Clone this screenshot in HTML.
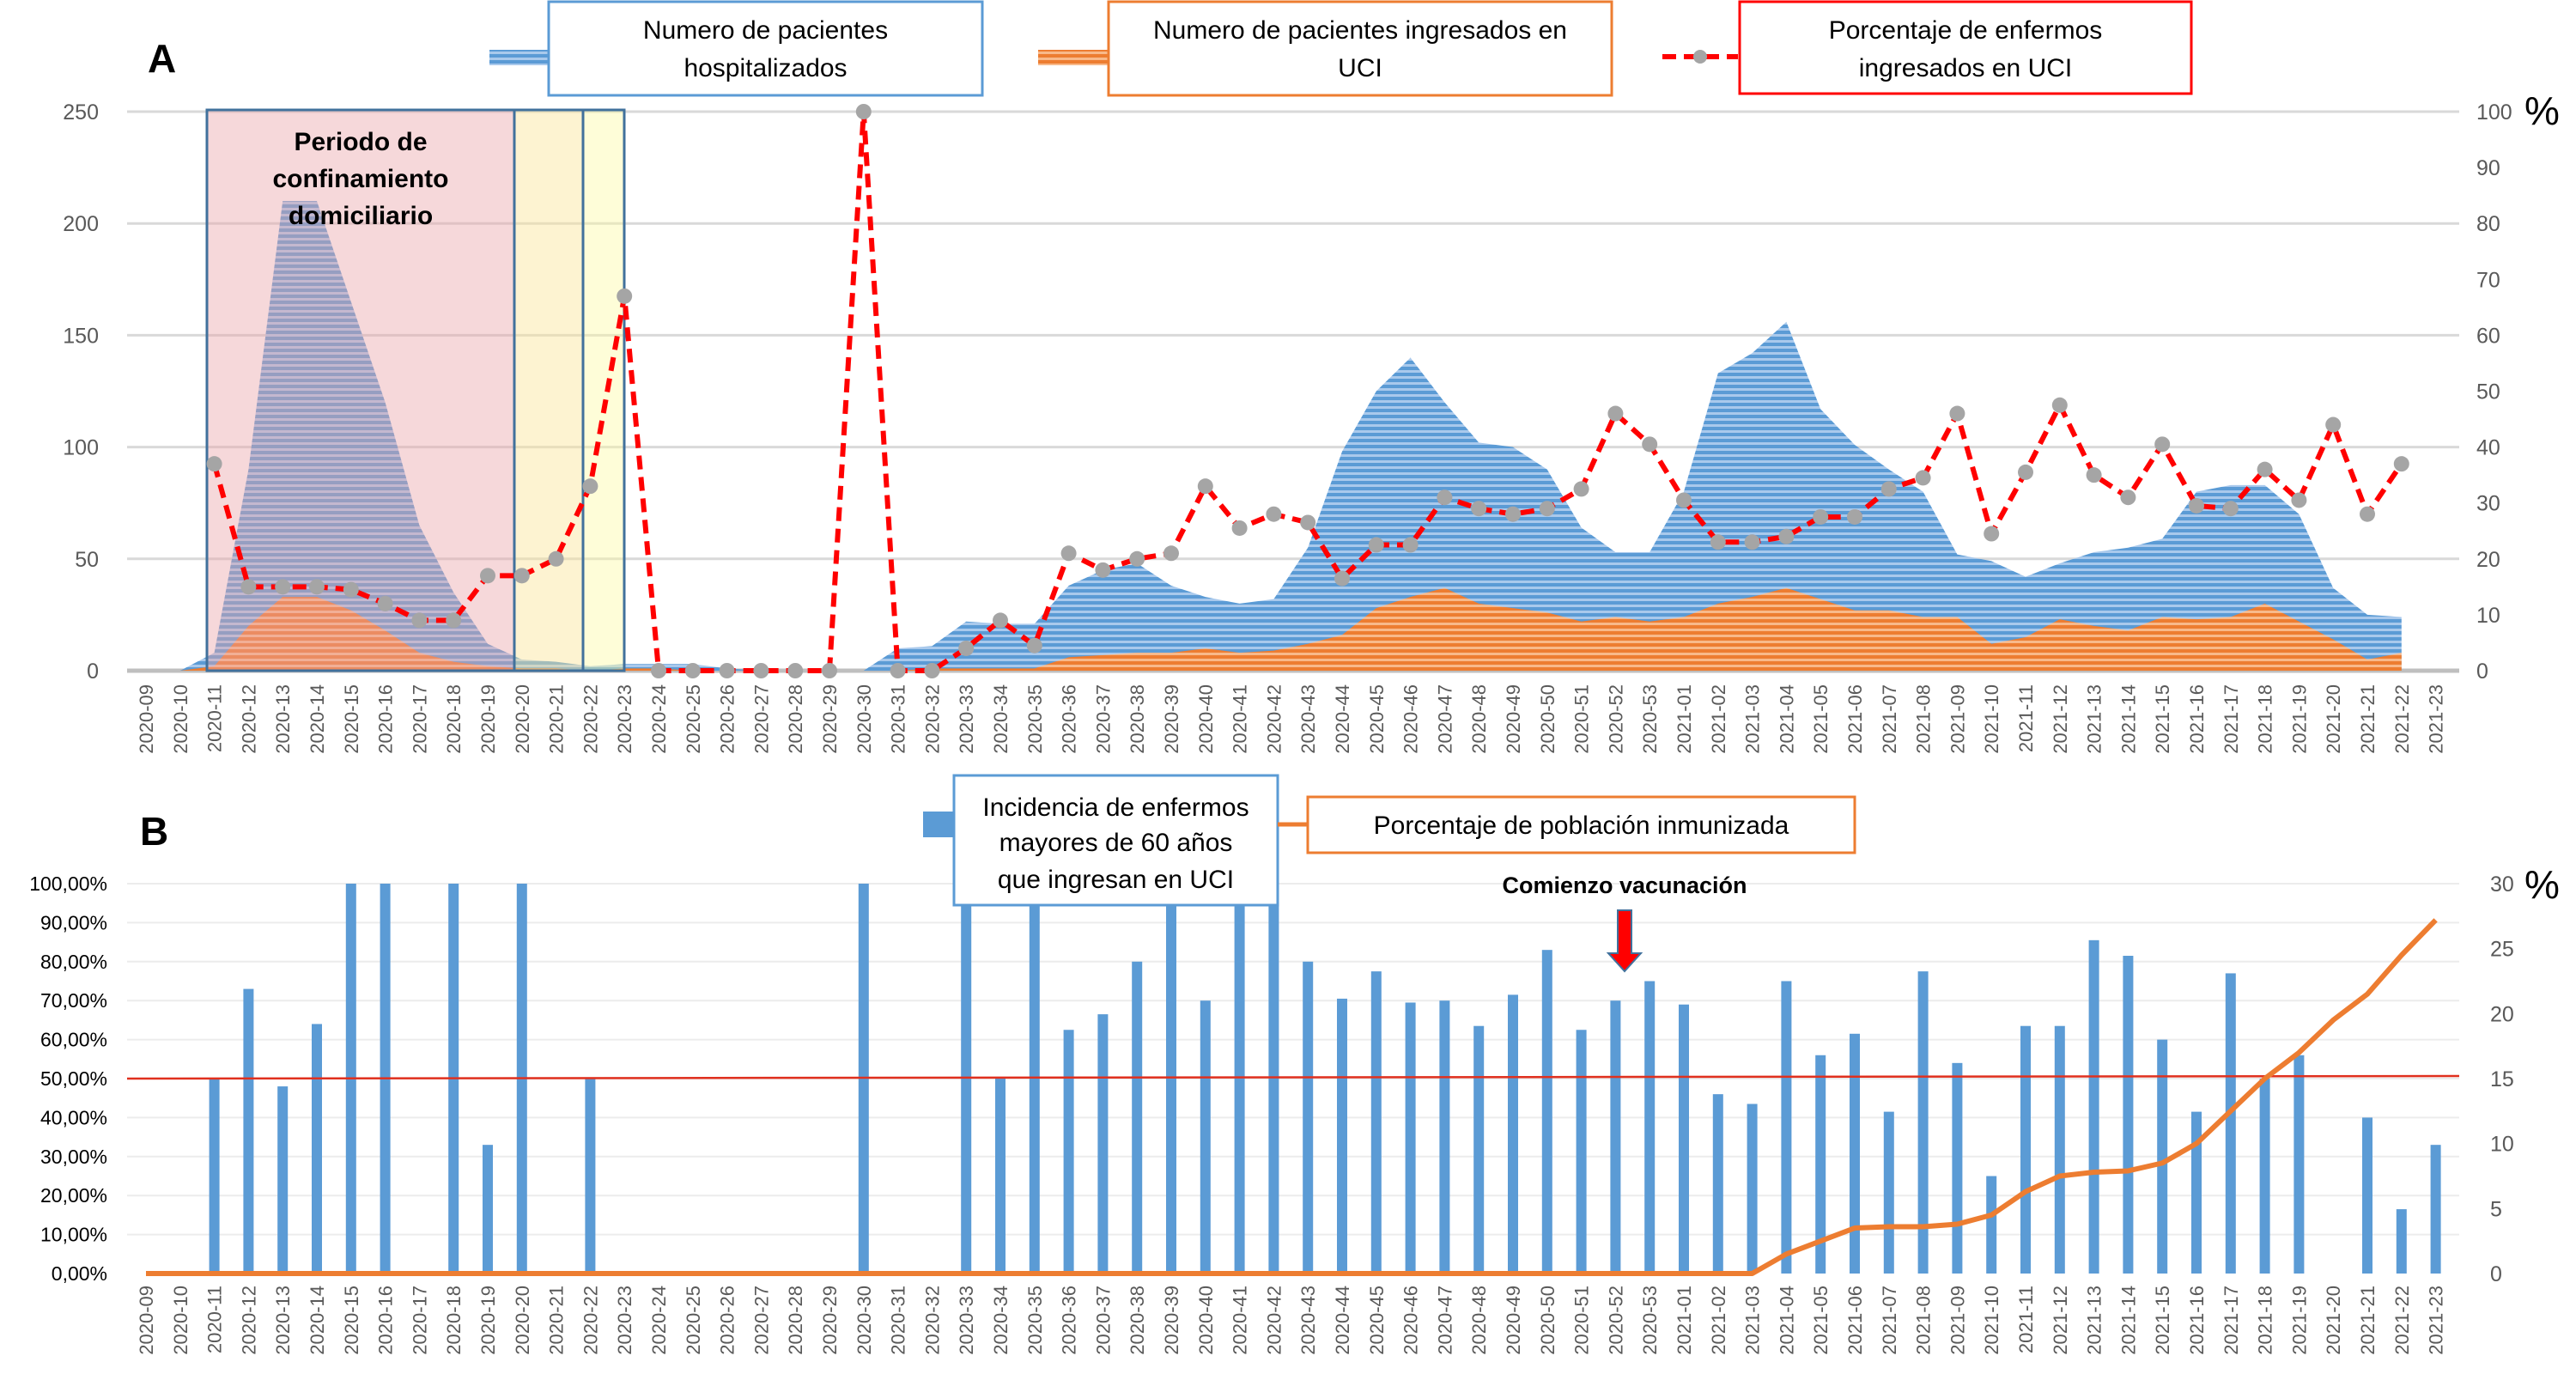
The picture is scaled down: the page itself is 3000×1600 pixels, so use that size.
<!DOCTYPE html>
<html><head><meta charset="utf-8"><style>
html,body{margin:0;padding:0;background:#fff;width:3000px;height:1600px;overflow:hidden}
svg{display:block;font-family:"Liberation Sans",sans-serif}
</style></head><body>
<svg id="chart" width="3000" height="1600" viewBox="0 0 3000 1600" xmlns="http://www.w3.org/2000/svg">
<defs>
<pattern id="hatchBlue" width="10" height="7" patternUnits="userSpaceOnUse"><rect width="10" height="7" fill="#a9c9ec"/><rect width="10" height="4" fill="#5b9bd5"/></pattern>
<pattern id="hatchOrange" width="10" height="7" patternUnits="userSpaceOnUse"><rect width="10" height="7" fill="#f8b98a"/><rect width="10" height="4" fill="#ed7d31"/></pattern>
</defs>
<g id="topChart"></g>
<g id="botChart"></g>
</svg>
<script>
const weeks = [];
for (let w = 9; w <= 53; w++) weeks.push('2020-' + String(w).padStart(2,'0'));
for (let w = 1; w <= 23; w++) weeks.push('2021-' + String(w).padStart(2,'0'));
const hospitalized = [0,0,8,90,210,210,165,120,65,35,12,5,4,2,3,3,3,1,0,0,0,0,10,11,22,21,21,38,45,48,38,33,30,32,55,98,125,140,120,102,100,90,64,53,53,80,133,142,156,117,101,90,80,52,49,42,48,53,55,59,80,83,83,70,37,25,24,null];
const uci = [0,0,2,20,33,33,27,18,8,4,2,1,1,0,1,1,0,0,0,0,0,0,0,1,1,1,1,6,7,8,8,10,8,9,12,16,28,33,37,30,28,26,22,24,22,24,30,33,37,32,27,27,24,24,12,15,23,20,18,24,23,24,30,22,14,5,8,null];
const pctUci = [null,null,37,15,15,15,14.5,12,9,9,17,17,20,33,67,0,0,0,0,0,0,100,0,0,4,9,4.5,21,18,20,21,33,25.5,28,26.5,16.5,22.5,22.5,31,29,28,29,32.5,46,40.5,30.5,23,23,24,27.5,27.5,32.5,34.5,46,24.5,35.5,47.5,35,31,40.5,29.5,29,36,30.5,44,28,37,null];
const incidence = [0,0,50,73,48,64,100,100,0,100,33,100,0,50,0,0,0,0,0,0,0,100,0,0,100,50,100,62.5,66.5,80,100,70,100,100,80,70.5,77.5,69.5,70,63.5,71.5,83,62.5,70,75,69,46,43.5,75,56,61.5,41.5,77.5,54,25,63.5,63.5,85.5,81.5,60,41.5,77,50,56,0,40,16.5,33];
const immunized = [0,0,0,0,0,0,0,0,0,0,0,0,0,0,0,0,0,0,0,0,0,0,0,0,0,0,0,0,0,0,0,0,0,0,0,0,0,0,0,0,0,0,0,0,0,0,0,0,1.5,2.5,3.5,3.6,3.6,3.8,4.5,6.3,7.5,7.8,7.9,8.5,10,12.5,15,17,19.5,21.5,24.5,27.2];
const leftTicksA = [0,50,100,150,200,250];
const rightTicksA = [0,10,20,30,40,50,60,70,80,90,100];
const leftTicksB = [0,10,20,30,40,50,60,70,80,90,100];
const rightTicksB = [0,5,10,15,20,25,30];

const NS = 'http://www.w3.org/2000/svg';
function mk(parent, tag, attrs, text){const e=document.createElementNS(NS,tag);for(const k in attrs)e.setAttribute(k,attrs[k]);if(text!==undefined)e.textContent=text;parent.appendChild(e);return e;}
const X = i => 170 + i*39.8;
const GX0=148, GX1=2864;
const yA = v => 781 - v*(651/250);
const yAr = v => 781 - v*(651/100);
const yB = v => 1483 - v*(454/100);
const yBr = v => 1483 - v*(454/30);
const gTop = document.getElementById('topChart');
const gBot = document.getElementById('botChart');

leftTicksA.forEach(t=>{
  const l=mk(gTop,'line',{x1:GX0,x2:GX1,y1:yA(t),y2:yA(t),stroke:t===0?'#bfbfbf':'#d9d9d9','stroke-width':t===0?5:3});
  
  
  const tx=mk(gTop,'text',{x:115,y:yA(t)+9,'text-anchor':'end','font-size':25,fill:'#595959'},String(t));
  
  
});
rightTicksA.forEach(t=>{
  const tx=mk(gTop,'text',{x:2884,y:yAr(t)+9,'font-size':25,fill:'#595959'},String(t));
  
  
});
function areaPath(arr, yf){
  let d='', started=false, last=0;
  arr.forEach((v,i)=>{ if(v===null) return; if(!started){d+=`M${X(i)},${yf(0)} `;started=true;} d+=`L${X(i)},${yf(v)} `; last=i;});
  d+=`L${X(last)},${yf(0)} Z`; return d;
}
const aH=mk(gTop,'path',{d:areaPath(hospitalized,yA),fill:'url(#hatchBlue)'});


const aU=mk(gTop,'path',{d:areaPath(uci,yA),fill:'url(#hatchOrange)'});


const r1=mk(gTop,'rect',{x:241,y:128,width:358,height:653,fill:'#e9a3a6','fill-opacity':0.42,stroke:'#41719c','stroke-width':3});


const r2=mk(gTop,'rect',{x:599,y:128,width:80,height:653,fill:'#fbe59a','fill-opacity':0.45,stroke:'#41719c','stroke-width':3});


const r3=mk(gTop,'rect',{x:679,y:128,width:48,height:653,fill:'#fdfb9e','fill-opacity':0.4,stroke:'#41719c','stroke-width':3});


['Periodo de','confinamiento','domiciliario'].forEach((s,k)=>{
  const t=mk(gTop,'text',{x:420,y:175+k*43,'text-anchor':'middle','font-size':30,'font-weight':'bold',fill:'#000'},s);
  
  
});
let pd='';let pen=false;
pctUci.forEach((v,i)=>{ if(v===null){pen=false;return;} pd+=(pen?'L':'M')+X(i)+','+yAr(v)+' '; pen=true;});
const pl=mk(gTop,'path',{d:pd,fill:'none',stroke:'#ff0000','stroke-width':6,'stroke-dasharray':'16 9'});


pctUci.forEach((v,i)=>{ if(v===null) return;
  const c=mk(gTop,'circle',{cx:X(i),cy:yAr(v),r:9,fill:'#a5a5a5'});
  
  
});
weeks.forEach((w,i)=>{
  const t=mk(gTop,'text',{transform:`translate(${X(i)+8},797) rotate(-90)`,'text-anchor':'end','font-size':22,fill:'#595959'},w);
  
  
  const t2=mk(gBot,'text',{transform:`translate(${X(i)+8},1497) rotate(-90)`,'text-anchor':'end','font-size':22,fill:'#595959'},w);
  
  
});
function box(g,x,y,w,h,col,lines,ty,name){
  const r=mk(g,'rect',{x,y,width:w,height:h,fill:'#fff',stroke:col,'stroke-width':3});
  
  
  lines.forEach((s,k)=>{const t=mk(g,'text',{x:x+w/2,y:ty[k],'text-anchor':'middle','font-size':30,fill:'#000'},s);
    
    });
}
const s1=mk(gTop,'rect',{x:570,y:58,width:69,height:18,fill:'url(#hatchBlue)'});


box(gTop,639,2,505,109,'#5b9bd5',['Numero de pacientes','hospitalizados'],[45,89],'legend-hospitalized');
const s2=mk(gTop,'rect',{x:1209,y:58,width:82,height:18,fill:'url(#hatchOrange)'});


box(gTop,1291,2,586,109,'#ed7d31',['Numero de pacientes ingresados en','UCI'],[45,89],'legend-uci');
const s3=mk(gTop,'line',{x1:1936,x2:2024,y1:66,y2:66,stroke:'#ff0000','stroke-width':6,'stroke-dasharray':'16 9'});


const s3c=mk(gTop,'circle',{cx:1980,cy:66,r:8,fill:'#a5a5a5'});


box(gTop,2026,2,526,107,'#ff0000',['Porcentaje de enfermos','ingresados en UCI'],[45,89],'legend-percentage');
const la=mk(gTop,'text',{x:172,y:84,'font-size':46,'font-weight':'bold',fill:'#000'},'A');


const pa=mk(gTop,'text',{x:2940,y:145,'font-size':46,fill:'#000'},'%');



leftTicksB.forEach(t=>{
  if(t>0){const l=mk(gBot,'line',{x1:GX0,x2:GX1,y1:yB(t),y2:yB(t),stroke:'#ececec','stroke-width':2});
  
  }
  const tx=mk(gBot,'text',{x:125,y:yB(t)+8,'text-anchor':'end','font-size':23,fill:'#000'},t.toFixed(2).replace('.',',')+'%');
  
  
});
rightTicksB.forEach(t=>{
  const tx=mk(gBot,'text',{x:2900,y:yBr(t)+9,'font-size':25,fill:'#595959'},String(t));
  
  
});
incidence.forEach((v,i)=>{ if(!v) return;
  const b=mk(gBot,'rect',{x:X(i)-6,y:yB(v),width:12,height:yB(0)-yB(v),fill:'#5b9bd5'});
  
  
});
const ref=mk(gBot,'line',{x1:GX0,x2:GX1,y1:yB(50),y2:yB(50)-3,stroke:'#e0301e','stroke-width':2.5});


const im=mk(gBot,'polyline',{points:immunized.map((v,i)=>X(i)+','+yBr(v)).join(' '),fill:'none',stroke:'#ed7d31','stroke-width':6,'stroke-linejoin':'round'});


const sb=mk(gBot,'rect',{x:1075,y:945,width:36,height:30,fill:'#5b9bd5'});


box(gBot,1111,903,377,151,'#5b9bd5',['Incidencia de enfermos','mayores de 60 años','que ingresan en UCI'],[950,991,1034],'legend-incidence');
const so=mk(gBot,'line',{x1:1488,x2:1523,y1:960,y2:960,stroke:'#ed7d31','stroke-width':5});


box(gBot,1523,928,637,65,'#ed7d31',['Porcentaje de población inmunizada'],[971],'legend-immunized');
const lb=mk(gBot,'text',{x:163,y:984,'font-size':46,'font-weight':'bold',fill:'#000'},'B');


const pb=mk(gBot,'text',{x:2940,y:1046,'font-size':46,fill:'#000'},'%');


const cv=mk(gBot,'text',{x:1892,y:1040,'text-anchor':'middle','font-size':27,'font-weight':'bold',fill:'#000'},'Comienzo vacunación');


const ar=mk(gBot,'path',{d:'M1884,1110 L1884,1060 L1900,1060 L1900,1110 L1911,1110 L1892,1131 L1873,1110 Z',fill:'#ff0000',stroke:'#41719c','stroke-width':2});


</script>
</body></html>
